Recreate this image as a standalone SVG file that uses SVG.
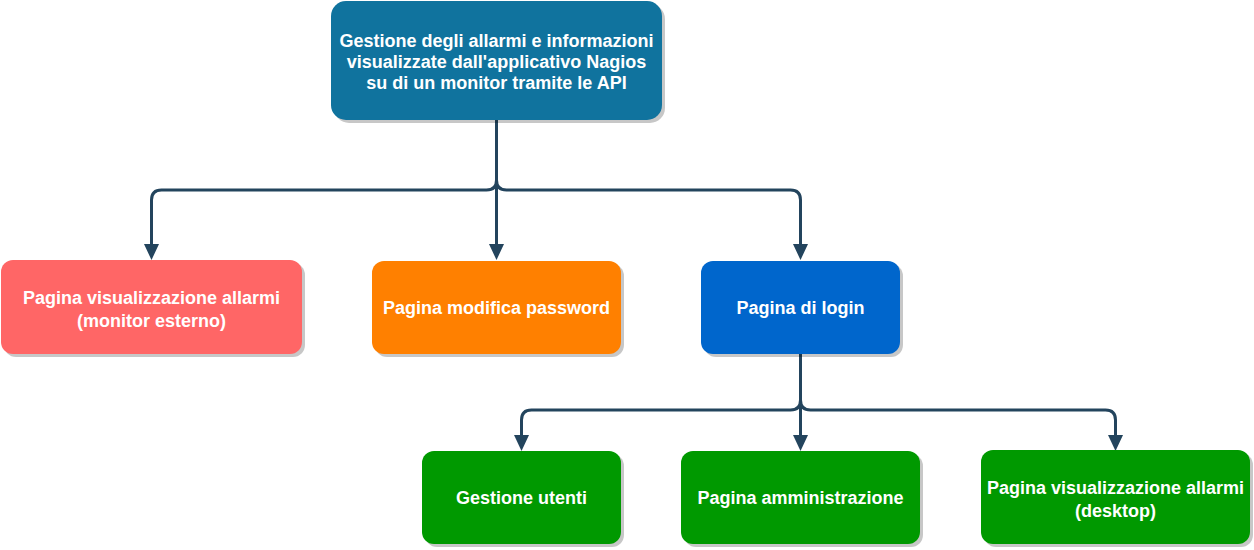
<svg xmlns="http://www.w3.org/2000/svg" width="1254" height="550" viewBox="0 0 1254 550">
<style>
.sh{fill:#000;opacity:0.22}
.t{fill:#fff;font-family:"Liberation Sans",Arial,sans-serif;font-weight:bold;font-size:18px;text-anchor:middle}
.e{fill:none;stroke:#23445D;stroke-width:3;marker-end:url(#arr)}
</style>
<defs>
<marker id="arr" markerUnits="userSpaceOnUse" markerWidth="16" markerHeight="15" refX="0" refY="7.5" orient="auto" overflow="visible">
<path d="M0 0 L16 7.5 L0 15 Z" fill="#23445D"/>
</marker>
</defs>
<rect width="1254" height="550" fill="#fff"/>
<g id="connectors">
<path class="e" d="M496.5 120 L496.5 180 Q496.5 190 486.5 190 L161.5 190 Q151.5 190 151.5 200 L151.5 244"/>
<path class="e" d="M496.5 120 L496.5 244"/>
<path class="e" d="M496.5 120 L496.5 180 Q496.5 190 506.5 190 L790.5 190 Q800.5 190 800.5 200 L800.5 244"/>
<path class="e" d="M800.5 354 L800.5 400 Q800.5 410 790.5 410 L531.5 410 Q521.5 410 521.5 420 L521.5 435"/>
<path class="e" d="M800.5 354 L800.5 435"/>
<path class="e" d="M800.5 354 L800.5 400 Q800.5 410 810.5 410 L1105.5 410 Q1115.5 410 1115.5 420 L1115.5 435"/>
</g>
<g id="root">
<rect class="sh" x="334" y="4" width="331" height="119" rx="15"/>
<rect x="331" y="1" width="331" height="119" rx="15" fill="#10739E"/>
<text class="t"><tspan x="496.5" y="47">Gestione degli allarmi e informazioni</tspan><tspan x="496.5" y="68">visualizzate dall'applicativo Nagios</tspan><tspan x="496.5" y="89">su di un monitor tramite le API</tspan></text>
</g>
<g id="monitor">
<rect class="sh" x="4" y="263" width="301" height="94" rx="12"/>
<rect x="1" y="260" width="301" height="94" rx="12" fill="#FF6666"/>
<text class="t"><tspan x="151.5" y="304">Pagina visualizzazione allarmi</tspan><tspan x="151.5" y="327">(monitor esterno)</tspan></text>
</g>
<g id="password">
<rect class="sh" x="375" y="264" width="249" height="93" rx="12"/>
<rect x="372" y="261" width="249" height="93" rx="12" fill="#FF8000"/>
<text class="t" x="496.5" y="314">Pagina modifica password</text>
</g>
<g id="login">
<rect class="sh" x="704" y="264" width="199" height="93" rx="12"/>
<rect x="701" y="261" width="199" height="93" rx="12" fill="#0066CC"/>
<text class="t" x="800.5" y="314">Pagina di login</text>
</g>
<g id="utenti">
<rect class="sh" x="425" y="454" width="199" height="93" rx="12"/>
<rect x="422" y="451" width="199" height="93" rx="12" fill="#009900"/>
<text class="t" x="521.5" y="504">Gestione utenti</text>
</g>
<g id="amministrazione">
<rect class="sh" x="684" y="454" width="239" height="93" rx="12"/>
<rect x="681" y="451" width="239" height="93" rx="12" fill="#009900"/>
<text class="t" x="800.5" y="504">Pagina amministrazione</text>
</g>
<g id="desktop">
<rect class="sh" x="984" y="453" width="269" height="94" rx="12"/>
<rect x="981" y="450" width="269" height="94" rx="12" fill="#009900"/>
<text class="t"><tspan x="1115.5" y="494">Pagina visualizzazione allarmi</tspan><tspan x="1115.5" y="517">(desktop)</tspan></text>
</g>
</svg>
